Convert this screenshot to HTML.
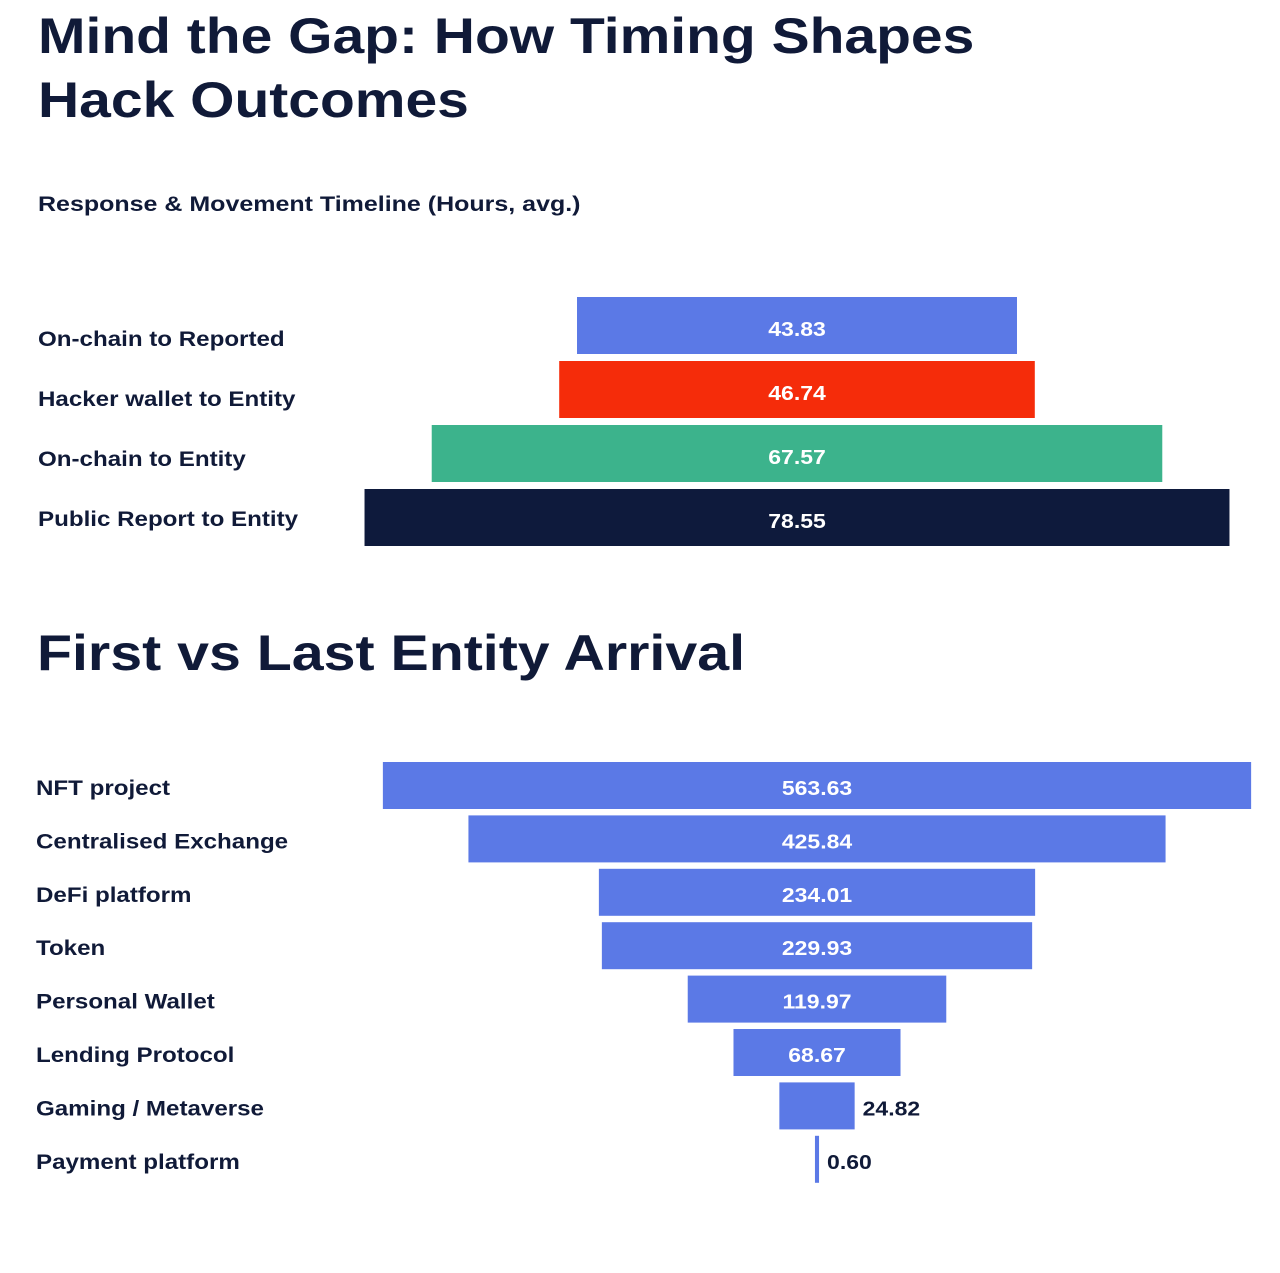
<!DOCTYPE html>
<html><head><meta charset="utf-8"><style>
body{margin:0;background:#fff;width:1280px;height:1273px;overflow:hidden;font-family:"Liberation Sans",sans-serif;color:#101a38}
.t{position:absolute;font-weight:bold;white-space:nowrap;transform-origin:0 0}
svg{position:absolute;left:0;top:0}
</style></head><body>
<div class="t" style="left:38px;top:4px;font-size:50px;line-height:64px;transform:scaleX(1.14)">Mind the Gap: How Timing Shapes<br>Hack Outcomes</div>
<div class="t" style="left:38px;top:193px;font-size:21px;transform:scaleX(1.19)">Response &amp; Movement Timeline (Hours, avg.)</div>
<div class="t" style="left:37px;top:624px;font-size:50px;transform:scaleX(1.146)">First vs Last Entity Arrival</div>
<svg id="c" width="1280" height="1273"></svg>
<script>
const cats1=["On-chain to Reported","Hacker wallet to Entity","On-chain to Entity","Public Report to Entity"];
const vals1=[43.83,46.74,67.57,78.55];
const colors1=["#5b79e6","#f52c0a","#3cb38c","#0e1a3c"];
const cats2=["NFT project","Centralised Exchange","DeFi platform","Token","Personal Wallet","Lending Protocol","Gaming / Metaverse","Payment platform"];
const vals2=[563.63,425.84,234.01,229.93,119.97,68.67,24.82,0.60];
const svg=document.getElementById('c');const NS="http://www.w3.org/2000/svg";
function mk(t,a,txt){const e=document.createElementNS(NS,t);for(const k in a)e.setAttribute(k,a[k]);if(txt!=null)e.textContent=txt;svg.appendChild(e);return e;}
function txt(x,y,s,size,fill,anchor){return mk('text',{x:0,y:0,transform:'translate('+x+','+y+') scale(1.15,1)','font-size':size,'font-weight':'bold',fill:fill,'text-anchor':anchor||'start','font-family':'Liberation Sans, sans-serif'},s);}
const w1=v=>Math.max(2,12.24*v-96.5);
const w2=v=>Math.max(2,6.09*Math.pow(v,0.783));
vals1.forEach((v,i)=>{const y=297+i*64,w=w1(v),cx=797;
 const r=mk('rect',{x:cx-w/2,y:y,width:w,height:57,fill:colors1[i]});
 
 
 const l=txt(38,346+i*60,cats1[i],21,'#101a38');
 
 
 const t=txt(cx,y+39,v.toFixed(2),20,'#fff','middle');
 
 
});
vals2.forEach((v,i)=>{const y=762+i*53.4,w=w2(v),cx=817;
 const r=mk('rect',{x:cx-w/2,y:y,width:w,height:47,fill:'#5b79e6'});
 
 
 const l=txt(36,y+33,cats2[i],21,'#101a38');
 
 
 const inside=w>120;
 const t=txt(inside?cx:cx+w/2+8,y+33,v.toFixed(2),20,inside?'#fff':'#101a38',inside?'middle':'start');
 
 
});
</script>
</body></html>
